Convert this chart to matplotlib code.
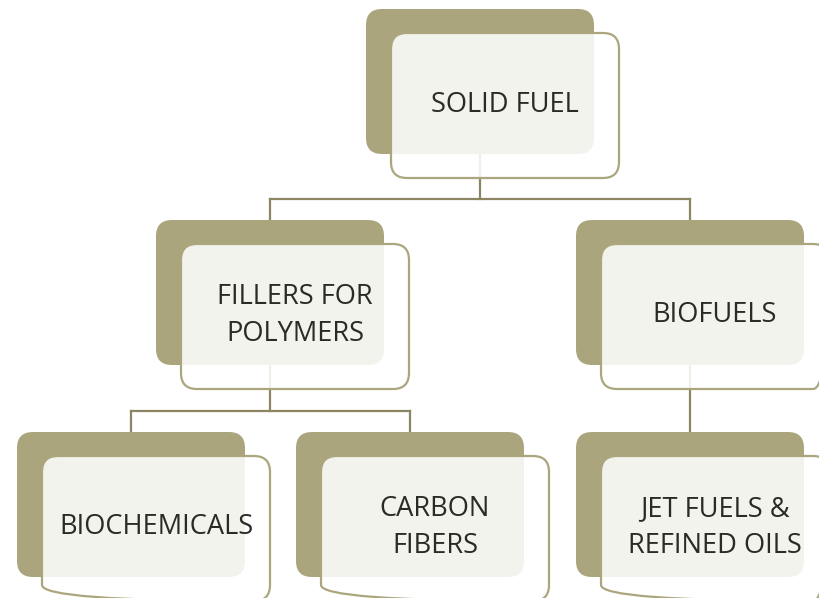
import matplotlib.pyplot as plt
from matplotlib.patches import FancyBboxPatch

# node labels (tree from top to bottom)
labels = ["SOLID FUEL", "FILLERS FOR\nPOLYMERS", "BIOFUELS",
          "BIOCHEMICALS", "CARBON\nFIBERS", "JET FUELS &\nREFINED OILS"]
parents = [None, 0, 0, 1, 1, 2]

# layout in pixel space: left/top of the back box
left = [366, 156, 576, 17, 296, 576]
top = [9, 220, 220, 432, 432, 432]
W, H = 228, 145
DX, DY = 25, 24

back_col = "#aaa57d"
edge_col = "#aba67e"
line_col = "#8c8762"

fig = plt.figure(figsize=(8.19, 5.98), dpi=100)
ax = fig.add_axes([0, 0, 1, 1])
ax.set_xlim(0, 819)
ax.set_ylim(598, 0)
ax.axis("off")

# connectors: parent -> horizontal bus -> children
for p in sorted(set(x for x in parents if x is not None)):
    kids = [i for i, q in enumerate(parents) if q == p]
    px = left[p] + W / 2
    pb = top[p] + H
    kx = [left[k] + W / 2 for k in kids]
    ky = top[kids[0]]
    if len(kids) == 1:
        ax.plot([px, px], [pb, ky], color=line_col, lw=1.6, zorder=1)
    else:
        bus = ky - 21
        ax.plot([px, px], [pb, bus], color=line_col, lw=1.6, zorder=1)
        ax.plot([min(kx), max(kx)], [bus, bus], color=line_col, lw=1.6, zorder=1)
        for x in kx:
            ax.plot([x, x], [bus, ky], color=line_col, lw=1.6, zorder=1)

for i, lab in enumerate(labels):
    ax.add_patch(FancyBboxPatch((left[i], top[i]), W, H,
                                boxstyle="round,pad=0,rounding_size=16",
                                fc=back_col, ec="none", zorder=2))
    # white, mostly opaque front card
    ax.add_patch(FancyBboxPatch((left[i] + DX, top[i] + DY), W, H,
                                boxstyle="round,pad=0,rounding_size=16",
                                fc="white", ec="none", alpha=0.87, zorder=3))
    ax.add_patch(FancyBboxPatch((left[i] + DX, top[i] + DY), W, H,
                                boxstyle="round,pad=0,rounding_size=16",
                                fc="none", ec=edge_col, lw=1.6, zorder=4))
    ax.text(left[i] + DX + W / 2, top[i] + DY + H / 2 - 1,
            lab, ha="center", va="center", fontsize=19.6, family="Open Sans",
            color="#2b2a24", linespacing=1.42, zorder=5)

fig.savefig("out.png", dpi=100)
